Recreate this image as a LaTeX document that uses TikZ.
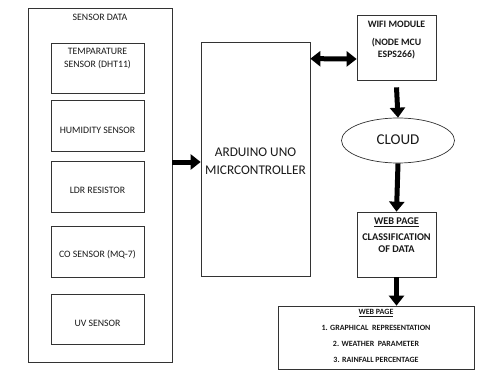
\documentclass[tikz,border=0pt]{standalone}
\usepackage{fontspec}
\setmainfont{Carlito}
\usetikzlibrary{arrows.meta,shapes.geometric}
\begin{document}
\begin{tikzpicture}[x=1pt,y=-1pt,
  box/.style={draw=black!80, line width=0.7pt, rectangle, inner sep=0pt},
  txt/.style={inner sep=0pt, align=center, text=black!90},
  fat/.style={line width=5pt, -{Triangle[length=10pt,width=15pt]}},
  fatboth/.style={line width=5pt, {Triangle[length=10pt,width=15pt]}-{Triangle[length=10pt,width=15pt]}}]
\useasboundingbox (0,0) rectangle (489,374);
% sensor data block
\node[box, minimum width=144pt, minimum height=354pt] (outer) at (100,185) {};
\node[txt, font=\fontsize{9.8}{10}\selectfont] (sdt) at (100,17) {SENSOR DATA};
\node[box, minimum width=93pt, minimum height=50pt] (temp) at (97.5,68) {};
\node[txt, font=\fontsize{9.8}{13}\selectfont, anchor=north] (tempt) at (97.5,48) {TEMPARATURE\\SENSOR (DHT11)};
\node[box, minimum width=93pt, minimum height=51pt] (hum) at (97.5,125.5) {};
\node[txt, font=\fontsize{9.8}{11}\selectfont] (humt) at (97.5,130) {HUMIDITY SENSOR};
\node[box, minimum width=93pt, minimum height=51pt] (ldr) at (97.5,186.5) {};
\node[txt, font=\fontsize{9.8}{11}\selectfont] (ldrt) at (97.5,190.5) {LDR RESISTOR};
\node[box, minimum width=93pt, minimum height=51pt] (co) at (97.5,251.5) {};
\node[txt, font=\fontsize{9.8}{11}\selectfont] (cot) at (97.5,255) {CO SENSOR (MQ-7)};
\node[box, minimum width=93pt, minimum height=50pt] (uv) at (97.5,319) {};
\node[txt, font=\fontsize{9.8}{11}\selectfont] (uvt) at (97.5,323) {UV SENSOR};
% arduino
\node[box, minimum width=109pt, minimum height=234pt] (ard) at (255.5,159) {};
\node[txt, font=\fontsize{13.3}{17.5}\selectfont] (ardt) at (255.5,161) {ARDUINO UNO\\MICRCONTROLLER};
% wifi
\node[box, minimum width=79pt, minimum height=65pt] (wifi) at (396.5,47.5) {};
\node[txt, font=\bfseries\fontsize{9.8}{15}\selectfont, anchor=north] (wifit) at (396.5,21) {WIFI MODULE\\[3pt](NODE MCU\\[-3pt]ESPS266)};
% cloud
\node[draw=black!80, line width=0.7pt, ellipse, minimum width=113pt, minimum height=45pt, inner sep=0pt] (cloud) at (398,140.5) {};
\node[txt, font=\fontsize{15}{16}\selectfont] (cloudt) at (398,140) {CLOUD};
% web page
\node[box, minimum width=79pt, minimum height=65pt] (web) at (396.5,244.5) {};
\node[txt, font=\bfseries\fontsize{10.3}{12}\selectfont, anchor=north] (webt) at (396.5,217.5) {\underline{WEB PAGE}\\[4pt]CLASSIFICATION\\OF DATA};
% bottom web page
\node[box, minimum width=196pt, minimum height=63pt] (out) at (376,337.5) {};
\node[txt, font=\bfseries\fontsize{8}{16}\selectfont, anchor=north] (outt) at (376,309.5) {\underline{WEB PAGE}\\1. GRAPHICAL\ \ REPRESENTATION\\2. WEATHER\ \ PARAMETER\\3. RAINFALL PERCENTAGE};
% arrows
\draw[fat] (outer.east |- 0,162) -- (ard.west |- 0,162);
\draw[fatboth] ([yshift=-17pt]ard.north east) -- (wifi.west |- 0,59);
\draw[fat] ([yshift=-7pt]wifi.south) -- (cloud.north);
\draw[fat] (cloud.south) -- (web.north);
\draw[fat] (web.south) -- (out.north -| web.south);
\end{tikzpicture}
\end{document}
